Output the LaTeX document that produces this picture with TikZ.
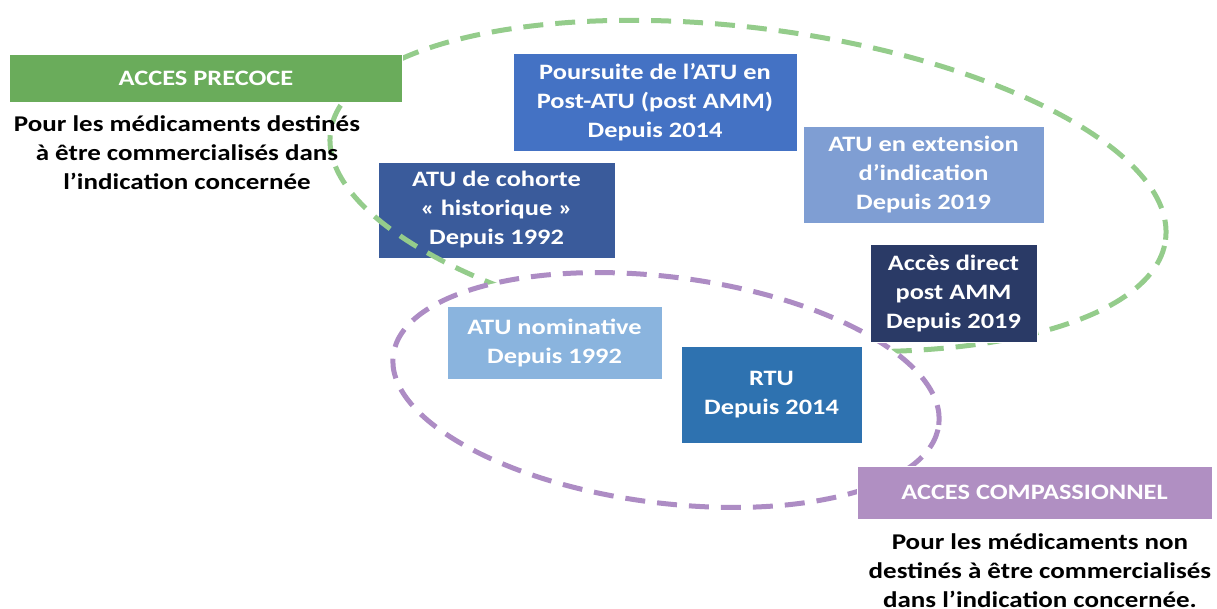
\documentclass[tikz,border=0pt]{standalone}
\usepackage{fontspec}
\setmainfont{Carlito}[FakeStretch=1.2]
\definecolor{cGreenBox}{HTML}{6AAC5B}
\definecolor{cGreenLine}{HTML}{94CC8B}
\definecolor{cPurBox}{HTML}{B08FC2}
\definecolor{cPurLine}{HTML}{AD8CC4}
\definecolor{cPours}{HTML}{4472C4}
\definecolor{cCoh}{HTML}{3A5B9B}
\definecolor{cExt}{HTML}{7F9ED3}
\definecolor{cDir}{HTML}{2A3A66}
\definecolor{cNom}{HTML}{8AB4DE}
\definecolor{cRtu}{HTML}{2E72B0}
\begin{document}
\begin{tikzpicture}[x=1pt,y=-1pt,
  box/.style={draw=white, line width=0.8pt, inner sep=0pt, align=center, text=white,
    font=\bfseries\fontsize{22}{29}\selectfont},
  dashline/.style={line width=5pt, dash pattern=on 20pt off 12pt},
  blk/.style={align=center, inner sep=0pt, text=black,
    font=\bfseries\fontsize{22.5}{29}\selectfont}]
\useasboundingbox (0,0) rectangle (1217,608);
% box under the green line
\node[box, fill=cCoh, minimum width=237pt, minimum height=96pt] (coh) at (496.5,210)
  {ATU de cohorte\\« historique »\\Depuis 1992};
% groups
\draw[dashline, cGreenLine, rotate around={-7.33:(748,186)}] (748,186) coordinate (gc)
  ellipse [x radius=421pt, y radius=158pt];
\draw[dashline, cPurLine, fill=white, rotate around={-7.3:(666,390)}] (666,390) coordinate (pc)
  ellipse [x radius=275pt, y radius=113pt];
% boxes
\node[box, fill=cGreenBox, minimum width=393pt, minimum height=48pt] (pre) at (206,78)
  {ACCES PRECOCE};
\node[box, fill=cPours, minimum width=284pt, minimum height=98pt] (pou) at (655,102)
  {Poursuite de l’ATU en\\Post-ATU (post AMM)\\Depuis 2014};
\node[box, fill=cExt, minimum width=241pt, minimum height=97pt] (ext) at (923.5,174.5)
  {ATU en extension\\d’indication\\Depuis 2019};
\node[box, fill=cDir, minimum width=167pt, minimum height=98pt] (dir) at (953.5,293.5)
  {Accès direct\\post AMM\\Depuis 2019};
\node[box, fill=cNom, minimum width=215pt, minimum height=73pt] (nom) at (554.5,342.5)
  {ATU nominative\\Depuis 1992};
\node[box, fill=cRtu, minimum width=181pt, minimum height=97pt] (rtu) at (771.5,394.5)
  {RTU\\Depuis 2014};
\node[box, fill=cPurBox, minimum width=355pt, minimum height=53pt] (com) at (1034.5,492.5)
  {ACCES COMPASSIONNEL};
% descriptions
\node[blk] (pretxt) at (187,153)
  {Pour les médicaments destinés\\à être commercialisés dans\\l’indication concernée};
\node[blk] (comtxt) at (1040,571)
  {Pour les médicaments non\\destinés à être commercialisés\\dans l’indication concernée.};
\end{tikzpicture}
\end{document}
